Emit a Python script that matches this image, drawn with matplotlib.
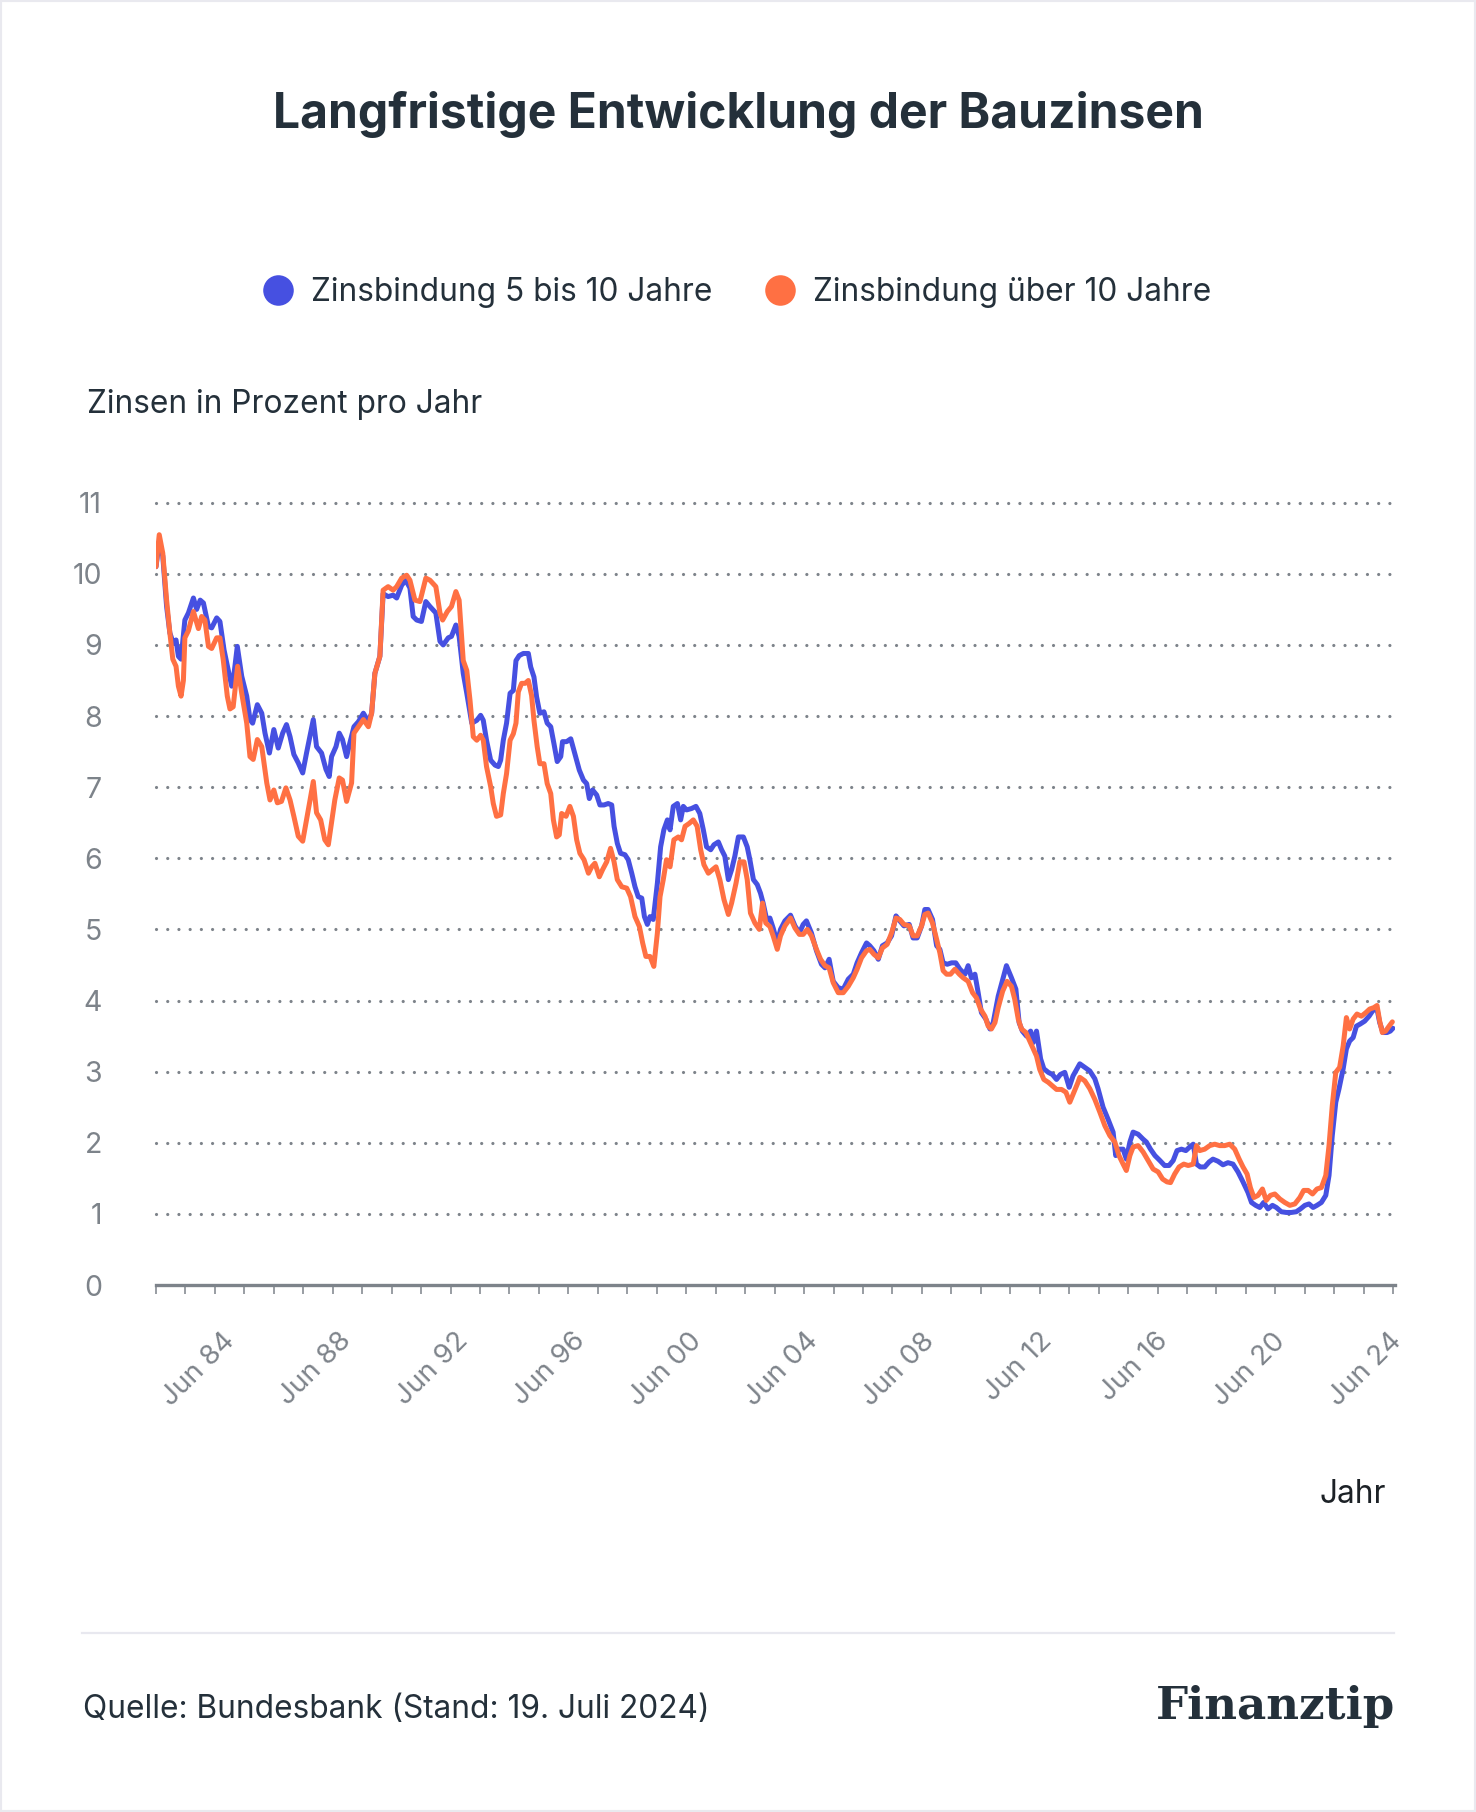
import numpy as np
import matplotlib.pyplot as plt
from matplotlib.lines import Line2D
from matplotlib.patches import Rectangle

plt.rcParams['font.family'] = ['Inter', 'DejaVu Sans']

# Zinsbindung 5 bis 10 Jahre (year as decimal, rate in %)
blue_t = [1982.50, 1982.61, 1982.73, 1982.86, 1982.97, 1983.09, 1983.18, 1983.26, 1983.35, 1983.48,
          1983.60, 1983.77, 1983.88, 1984.00, 1984.11, 1984.28, 1984.39, 1984.56, 1984.67, 1984.81,
          1984.95, 1985.07, 1985.15, 1985.26, 1985.41, 1985.58, 1985.69, 1985.78, 1985.94, 1986.09,
          1986.20, 1986.35, 1986.50, 1986.65, 1986.80, 1986.93, 1987.05, 1987.18, 1987.33, 1987.48,
          1987.61, 1987.84, 1987.95, 1988.12, 1988.27, 1988.38, 1988.46, 1988.61, 1988.72, 1988.83,
          1988.97, 1989.08, 1989.22, 1989.37, 1989.54, 1989.71, 1989.82, 1989.93, 1990.10, 1990.21,
          1990.38, 1990.55, 1990.67, 1990.84, 1990.98, 1991.12, 1991.23, 1991.35, 1991.51, 1991.66,
          1991.80, 1992.00, 1992.14, 1992.25, 1992.42, 1992.53, 1992.68, 1992.79,
          1992.93, 1993.05, 1993.22, 1993.39, 1993.52, 1993.61, 1993.72, 1993.86, 1994.01, 1994.12,
          1994.20, 1994.29, 1994.40, 1994.52, 1994.63, 1994.72, 1994.83, 1994.97, 1995.14, 1995.22,
          1995.33, 1995.42, 1995.53, 1995.67, 1995.78, 1995.90, 1996.01, 1996.12, 1996.24, 1996.30,
          1996.44, 1996.58, 1996.72, 1996.87, 1997.01, 1997.12, 1997.21, 1997.32, 1997.46, 1997.57,
          1997.71, 1997.85, 1997.97, 1998.05, 1998.16, 1998.27, 1998.42, 1998.53, 1998.65, 1998.76,
          1998.87, 1998.99, 1999.08, 1999.18, 1999.27, 1999.38, 1999.52, 1999.63, 1999.74, 1999.86,
          1999.95, 2000.06, 2000.20, 2000.31, 2000.40, 2000.51, 2000.68, 2000.83, 2000.96, 2001.08,
          2001.19, 2001.33, 2001.44, 2001.59, 2001.70, 2001.81, 2001.93, 2002.04, 2002.15, 2002.27,
          2002.44, 2002.57, 2002.66, 2002.78, 2002.91, 2003.02, 2003.11, 2003.23,
          2003.34, 2003.45, 2003.59, 2003.70, 2003.85, 2004.04, 2004.19, 2004.34, 2004.47, 2004.58,
          2004.75, 2004.92, 2005.09, 2005.21, 2005.35, 2005.49, 2005.66, 2005.83, 2006.00, 2006.17,
          2006.30, 2006.45, 2006.62, 2006.73, 2006.87, 2007.02, 2007.16, 2007.32, 2007.47, 2007.62,
          2007.75, 2007.89, 2008.07, 2008.20, 2008.34, 2008.49, 2008.60, 2008.71, 2008.86, 2009.00,
          2009.11, 2009.22, 2009.36, 2009.51, 2009.65, 2009.79, 2009.96, 2010.07, 2010.18, 2010.30,
          2010.41, 2010.52, 2010.67, 2010.81, 2010.92, 2011.09, 2011.26, 2011.37, 2011.54, 2011.69,
          2011.80, 2011.91, 2012.05, 2012.19, 2012.28, 2012.39, 2012.53, 2012.64, 2012.79, 2012.93,
          2013.07, 2013.20, 2013.35, 2013.50, 2013.63,
          2013.86, 2014.03, 2014.20, 2014.37, 2014.48, 2014.65, 2014.82, 2014.99, 2015.08, 2015.19,
          2015.33, 2015.44, 2015.56, 2015.67, 2015.84, 2016.01, 2016.12, 2016.26, 2016.41, 2016.58,
          2016.74, 2016.89, 2017.03, 2017.16, 2017.31, 2017.46, 2017.59, 2017.71, 2017.82, 2017.95,
          2018.10, 2018.25, 2018.38, 2018.55, 2018.72, 2018.89, 2019.06, 2019.23, 2019.40, 2019.57,
          2019.69, 2019.83, 2019.97, 2020.10, 2020.25, 2020.40, 2020.53, 2020.70, 2020.87, 2021.04,
          2021.21, 2021.35, 2021.50, 2021.64, 2021.78, 2021.91, 2022.06, 2022.21, 2022.32, 2022.43,
          2022.55, 2022.66, 2022.80, 2022.91, 2023.02, 2023.14, 2023.25, 2023.38, 2023.53, 2023.68,
          2023.81, 2023.95, 2024.04, 2024.15, 2024.29, 2024.40, 2024.49]
blue_v = [10.1, 10.45, 10.25, 9.54, 9.17, 9.02, 9.07, 8.84, 8.8, 9.35,
          9.45, 9.66, 9.5, 9.63, 9.59, 9.26, 9.24, 9.38, 9.33, 8.93,
          8.65, 8.42, 8.6, 8.98, 8.56, 8.28, 7.95, 7.9, 8.16, 8.04,
          7.76, 7.48, 7.81, 7.55, 7.76, 7.88, 7.71, 7.46, 7.34, 7.2,
          7.48, 7.95, 7.57, 7.48, 7.25, 7.15, 7.43, 7.57, 7.76, 7.67,
          7.43, 7.62, 7.85, 7.92, 8.04, 7.92, 8.04, 8.6, 8.84, 9.72,
          9.68, 9.7, 9.66, 9.84, 9.91, 9.8, 9.4, 9.35, 9.33, 9.61,
          9.54, 9.45, 9.05, 9.0, 9.1, 9.12, 9.28, 9.12,
          8.6, 8.32, 7.9, 7.94, 8.01, 7.94, 7.66, 7.38, 7.31, 7.29,
          7.38, 7.66, 7.9, 8.32, 8.36, 8.78, 8.85, 8.88, 8.88, 8.69,
          8.55, 8.27, 8.04, 8.06, 7.9, 7.85, 7.61, 7.36, 7.43, 7.64,
          7.64, 7.68, 7.47, 7.24, 7.1, 7.05, 6.84, 6.96, 6.89, 6.75,
          6.75, 6.77, 6.75, 6.45, 6.21, 6.07, 6.05, 5.98, 5.79, 5.6,
          5.46, 5.44, 5.18, 5.07, 5.18, 5.14, 5.65, 6.16, 6.4, 6.54,
          6.4, 6.73, 6.77, 6.54, 6.73, 6.68, 6.7, 6.73, 6.63, 6.4,
          6.16, 6.12, 6.19, 6.23, 6.12, 6.03, 5.7, 5.84, 6.03, 6.3,
          6.3, 6.16, 5.98, 5.7, 5.63, 5.51, 5.37, 5.14,
          5.16, 5.02, 4.81, 5.0, 5.12, 5.2, 5.05, 4.95, 5.07, 5.12,
          4.95, 4.7, 4.51, 4.46, 4.58, 4.27, 4.18, 4.16, 4.3, 4.37,
          4.53, 4.67, 4.81, 4.77, 4.7, 4.58, 4.77, 4.81, 4.91, 5.19,
          5.12, 5.05, 5.07, 4.88, 4.88, 5.05, 5.28, 5.28, 5.14, 4.77,
          4.72, 4.53, 4.51, 4.53, 4.53, 4.44, 4.37, 4.49, 4.32, 4.37,
          4.11, 3.83, 3.74, 3.6, 3.69, 4.06, 4.32, 4.49, 4.32, 4.16,
          3.69, 3.57, 3.5, 3.57, 3.41, 3.57, 3.18, 3.04, 2.99, 2.96,
          2.89, 2.96, 2.99, 2.78, 2.94,
          3.11, 3.06, 3.01, 2.9, 2.76, 2.5, 2.33, 2.15, 1.82, 1.91,
          1.91, 1.77, 2.01, 2.15, 2.12, 2.05, 2.01, 1.91, 1.82, 1.75,
          1.68, 1.68, 1.75, 1.89, 1.91, 1.89, 1.94, 1.98, 1.7, 1.66,
          1.66, 1.73, 1.77, 1.74, 1.69, 1.72, 1.7, 1.59, 1.45, 1.3,
          1.16, 1.12, 1.09, 1.16, 1.07, 1.12, 1.09, 1.03, 1.02, 1.02,
          1.03, 1.07, 1.12, 1.14, 1.09, 1.12, 1.16, 1.26, 1.54, 2.1,
          2.57, 2.76, 3.04, 3.32, 3.43, 3.48, 3.64, 3.67, 3.71, 3.78,
          3.86, 3.88, 3.69, 3.55, 3.55, 3.57, 3.61]

# Zinsbindung über 10 Jahre
orange_t = [1982.50, 1982.61, 1982.73, 1982.86, 1982.97, 1983.07, 1983.18, 1983.26, 1983.35, 1983.43,
            1983.48, 1983.60, 1983.77, 1983.94, 1984.05, 1984.16, 1984.28, 1984.39, 1984.56, 1984.67,
            1984.78, 1984.92, 1985.01, 1985.12, 1985.27, 1985.41, 1985.58, 1985.69, 1985.80, 1985.94,
            1986.09, 1986.26, 1986.37, 1986.50, 1986.62, 1986.76, 1986.91, 1987.05, 1987.18, 1987.33,
            1987.48, 1987.61, 1987.73, 1987.84, 1987.95, 1988.09, 1988.23, 1988.35, 1988.46, 1988.57,
            1988.72, 1988.83, 1988.97, 1989.14, 1989.22, 1989.37, 1989.54, 1989.71, 1989.82, 1989.93,
            1990.10, 1990.21, 1990.38, 1990.55, 1990.67, 1990.84, 1991.01, 1991.12, 1991.29, 1991.46,
            1991.66, 1991.80, 1992.00, 1992.14, 1992.23, 1992.39, 1992.53, 1992.68, 1992.79,
            1992.93, 1993.05, 1993.16, 1993.27, 1993.39, 1993.52, 1993.61, 1993.72, 1993.86, 1993.95,
            1994.06, 1994.20, 1994.29, 1994.40, 1994.52, 1994.63, 1994.72, 1994.80, 1994.91, 1995.03,
            1995.14, 1995.25, 1995.33, 1995.44, 1995.53, 1995.67, 1995.78, 1995.90, 1995.99, 1996.10,
            1996.19, 1996.27, 1996.42, 1996.55, 1996.67, 1996.78, 1996.89, 1997.03, 1997.18, 1997.29,
            1997.40, 1997.55, 1997.66, 1997.80, 1997.93, 1998.05, 1998.16, 1998.31, 1998.48, 1998.61,
            1998.76, 1998.91, 1999.02, 1999.13, 1999.27, 1999.40, 1999.52, 1999.61, 1999.72, 1999.83,
            1999.95, 2000.08, 2000.23, 2000.34, 2000.46, 2000.60, 2000.74, 2000.87, 2000.99, 2001.10,
            2001.25, 2001.39, 2001.51, 2001.64, 2001.78, 2001.93, 2002.04, 2002.19, 2002.32, 2002.46,
            2002.57, 2002.68, 2002.83, 2002.98, 2003.09, 2003.20, 2003.34,
            2003.45, 2003.59, 2003.70, 2003.85, 2004.04, 2004.19, 2004.34, 2004.47, 2004.61, 2004.75,
            2004.92, 2005.06, 2005.21, 2005.35, 2005.49, 2005.66, 2005.83, 2006.00, 2006.17, 2006.30,
            2006.45, 2006.62, 2006.73, 2006.87, 2007.02, 2007.16, 2007.32, 2007.47, 2007.62, 2007.75,
            2007.89, 2008.07, 2008.20, 2008.34, 2008.49, 2008.60, 2008.71, 2008.86, 2009.00, 2009.11,
            2009.22, 2009.34, 2009.47, 2009.62, 2009.77, 2009.90, 2010.07, 2010.22, 2010.35, 2010.49,
            2010.64, 2010.75, 2010.86, 2010.98, 2011.09, 2011.24, 2011.39, 2011.54, 2011.65, 2011.77,
            2011.88, 2012.03, 2012.16, 2012.28, 2012.39, 2012.50, 2012.64, 2012.79, 2012.93, 2013.07,
            2013.24, 2013.39, 2013.52, 2013.66, 2013.80,
            2013.86, 2014.03, 2014.20, 2014.37, 2014.54, 2014.71, 2014.88, 2015.05, 2015.19, 2015.33,
            2015.44, 2015.56, 2015.67, 2015.84, 2016.01, 2016.18, 2016.35, 2016.52, 2016.67, 2016.82,
            2016.94, 2017.08, 2017.23, 2017.39, 2017.54, 2017.71, 2017.82, 2017.93, 2018.10, 2018.27,
            2018.44, 2018.61, 2018.78, 2018.95, 2019.12, 2019.27, 2019.40, 2019.54, 2019.65, 2019.77,
            2019.91, 2020.06, 2020.19, 2020.33, 2020.48, 2020.65, 2020.82, 2020.99, 2021.16, 2021.33,
            2021.46, 2021.61, 2021.76, 2021.91, 2022.06, 2022.21, 2022.32, 2022.43, 2022.55, 2022.68,
            2022.80, 2022.91, 2023.02, 2023.14, 2023.27, 2023.42, 2023.57, 2023.70, 2023.84, 2023.95,
            2024.04, 2024.13, 2024.24, 2024.36, 2024.47]
orange_v = [10.1, 10.55, 10.29, 9.63, 9.17, 8.8, 8.7, 8.42, 8.28, 8.5,
            9.1, 9.2, 9.47, 9.23, 9.4, 9.35, 8.98, 8.95, 9.1, 9.1,
            8.8, 8.28, 8.1, 8.13, 8.7, 8.32, 7.9, 7.43, 7.39, 7.67,
            7.57, 7.06, 6.82, 6.96, 6.78, 6.8, 6.99, 6.82, 6.59, 6.31,
            6.24, 6.54, 6.82, 7.08, 6.64, 6.54, 6.26, 6.19, 6.5, 6.82,
            7.13, 7.1, 6.8, 7.06, 7.76, 7.85, 7.95, 7.85, 8.04, 8.6,
            8.84, 9.77, 9.82, 9.77, 9.82, 9.94, 9.98, 9.91, 9.63, 9.61,
            9.94, 9.91, 9.82, 9.45, 9.35, 9.47, 9.54, 9.75, 9.63,
            8.78, 8.64, 8.22, 7.71, 7.66, 7.73, 7.66, 7.29, 7.01, 6.77,
            6.59, 6.61, 6.91, 7.19, 7.66, 7.75, 7.9, 8.34, 8.46, 8.46,
            8.5, 8.29, 7.94, 7.57, 7.33, 7.33, 7.05, 6.91, 6.54, 6.3,
            6.33, 6.63, 6.59, 6.73, 6.59, 6.26, 6.07, 5.98, 5.79, 5.88,
            5.93, 5.74, 5.84, 5.95, 6.14, 5.95, 5.7, 5.6, 5.58, 5.46,
            5.18, 5.04, 4.81, 4.62, 4.62, 4.48, 4.95, 5.46, 5.7, 5.98,
            5.88, 6.26, 6.3, 6.26, 6.45, 6.49, 6.54, 6.45, 6.12, 5.91,
            5.79, 5.84, 5.88, 5.7, 5.42, 5.21, 5.37, 5.65, 5.95, 5.95,
            5.7, 5.23, 5.09, 5.0, 5.37, 5.09, 5.04,
            4.91, 4.72, 4.91, 5.05, 5.16, 5.02, 4.93, 4.93, 5.0, 4.91,
            4.72, 4.58, 4.49, 4.46, 4.25, 4.11, 4.11, 4.2, 4.32, 4.44,
            4.6, 4.7, 4.72, 4.65, 4.6, 4.74, 4.79, 4.95, 5.16, 5.14,
            5.07, 5.05, 4.91, 4.91, 5.05, 5.21, 5.23, 5.09, 4.86, 4.67,
            4.42, 4.37, 4.37, 4.44, 4.37, 4.32, 4.27, 4.11, 4.04, 3.88,
            3.78, 3.64, 3.6, 3.69, 3.9, 4.13, 4.27, 4.2, 4.02, 3.74,
            3.6, 3.55, 3.43, 3.32, 3.22, 3.03, 2.89, 2.85, 2.8, 2.75,
            2.75, 2.71, 2.57, 2.71, 2.85,
            2.92, 2.87, 2.76, 2.61, 2.43, 2.24, 2.1, 2.01, 1.82, 1.7,
            1.61, 1.82, 1.94, 1.96, 1.87, 1.75, 1.63, 1.59, 1.49, 1.45,
            1.44, 1.56, 1.66, 1.7, 1.68, 1.7, 1.96, 1.89, 1.91, 1.96,
            1.98, 1.96, 1.96, 1.98, 1.91, 1.77, 1.66, 1.56, 1.37, 1.23,
            1.26, 1.35, 1.19, 1.26, 1.28, 1.21, 1.16, 1.12, 1.14, 1.23,
            1.33, 1.33, 1.28, 1.35, 1.37, 1.54, 1.96, 2.52, 2.99, 3.06,
            3.36, 3.76, 3.6, 3.74, 3.81, 3.78, 3.83, 3.88, 3.9, 3.93,
            3.71, 3.55, 3.57, 3.64, 3.7]

tick_labels = ['Jun 84', 'Jun 88', 'Jun 92', 'Jun 96', 'Jun 00', 'Jun 04',
               'Jun 08', 'Jun 12', 'Jun 16', 'Jun 20', 'Jun 24']

BLUE = '#4650E1'
ORANGE = '#FF7043'
GREY = '#7d838a'
DARK = '#24303a'
W, H = 1476, 1812


def px(x, y):
    return x / W, 1 - y / H


fig = plt.figure(figsize=(W / 100, H / 100), dpi=100)
fig.patch.set_facecolor('white')
fig.add_artist(Rectangle((0, 0), 1, 1, transform=fig.transFigure, fill=False,
                         edgecolor='#e9e9ef', lw=3))

ax = fig.add_axes([156 / W, 1 - 1285 / H, 1239 / W, (1285 - 502.7) / H])
ax.plot(blue_t, blue_v, color=BLUE, lw=3.6, solid_joinstyle='round', solid_capstyle='round')
ax.plot(orange_t, orange_v, color=ORANGE, lw=3.6, solid_joinstyle='round', solid_capstyle='round')

ax.set_xlim(1982.5, 2024.56)
ax.set_ylim(0, 11)
ax.set_yticks(range(0, 12))
ax.tick_params(axis='y', length=0, pad=39, labelsize=20.5, labelcolor=GREY)

ax.set_xticks(np.arange(1982.5, 2024.6, 1), minor=True)
ax.set_xticks(np.linspace(1984.72, 2024.35, len(tick_labels)), tick_labels,
              rotation=45, ha='right', va='top', rotation_mode='anchor')
ax.tick_params(axis='x', which='major', length=0, pad=31, labelsize=20, labelcolor=GREY)
ax.tick_params(axis='x', which='minor', length=6.5, width=1.1, color=GREY)

ax.yaxis.grid(True, color=GREY, lw=2.3, linestyle=(0, (0.01, 3.5)), dash_capstyle='round')
for gl in ax.get_ygridlines():
    gl.set_clip_on(False)
ax.get_ygridlines()[0].set_visible(False)
ax.set_axisbelow(True)
for s in ['left', 'top', 'right']:
    ax.spines[s].set_visible(False)
ax.spines['bottom'].set_color(GREY)
ax.spines['bottom'].set_linewidth(2.4)

# title and legend
fig.text(*px(738, 128), 'Langfristige Entwicklung der Bauzinsen', ha='center', va='baseline',
         fontsize=34.6, fontweight='bold', color=DARK)
for cx, tx, col, lab in [(278, 311, BLUE, 'Zinsbindung 5 bis 10 Jahre'),
                         (780, 813, ORANGE, 'Zinsbindung über 10 Jahre')]:
    fig.add_artist(Line2D([cx / W], [1 - 290 / H], marker='o', ms=22, color=col,
                          mec='none', transform=fig.transFigure))
    fig.text(*px(tx, 301), lab, ha='left', va='baseline', fontsize=22.8, color=DARK)

fig.text(*px(87, 413), 'Zinsen in Prozent pro Jahr', ha='left', va='baseline', fontsize=22.8, color=DARK)
fig.text(*px(1386, 1503), 'Jahr', ha='right', va='baseline', fontsize=22.8, color='#1c2126')

# footer
fig.add_artist(Line2D([82 / W, 1394 / W], [1 - 1633 / H] * 2, color='#e8e8ef', lw=1.6,
                      transform=fig.transFigure))
fig.text(*px(83, 1718), 'Quelle: Bundesbank (Stand: 19. Juli 2024)', ha='left', va='baseline',
         fontsize=22.8, color=DARK)
fig.text(*px(1395, 1719), 'Finanztip', ha='right', va='baseline', fontsize=32.5,
         fontweight='bold', family='DejaVu Serif', color=DARK)

fig.savefig('out.png', dpi=100, facecolor='white')
